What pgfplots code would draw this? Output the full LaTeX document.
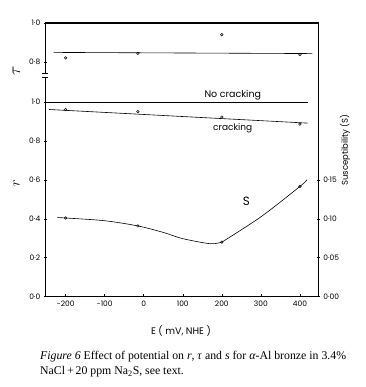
\documentclass[border=0pt]{standalone}
\usepackage{fontspec}
\setmainfont{Liberation Serif}
\newfontfamily\chartfont{Poppins}
\usepackage{pgfplots}
\pgfplotsset{compat=1.18}
\usepackage{pgfplotstable}

\pgfplotstableread{
E tau
-200 0.821
-15 0.844
200 0.940
400 0.838
}\tautable
\pgfplotstableread{
E tau
-231 0.849
432 0.843
}\tauline
\pgfplotstableread{
E r
-200 0.960
-15 0.950
200 0.922
400 0.886
}\rtable
\pgfplotstableread{
E r
-242 0.961
420 0.891
}\rline
\pgfplotstableread{
E r
-252 1.000
420 1.000
}\nocrack
\pgfplotstableread{
E S
-200 0.1010
-15 0.0908
200 0.0700
400 0.1415
}\stable
\pgfplotstableread{
E S
-222 0.1015
-200 0.1010
-100 0.0975
-15 0.0908
50 0.0825
100 0.0745
170 0.0680
200 0.0700
}\scurveA
\pgfplotstableread{
E S
200 0.0700
300 0.1025
400 0.1415
418 0.1500
}\scurveB

\begin{document}
\begin{tikzpicture}
\path[use as bounding box] (0pt,0pt) rectangle (365pt,387pt);
\begin{axis}[
  at={(45.3pt,90.3pt)}, anchor=south west,
  scale only axis, width=273pt, height=273.7pt,
  xmin=-252, xmax=447, ymin=0, ymax=1.405,
  axis line style={line width=1.1pt},
  xtick={-200,-100,0,100,200,300,400},
  xticklabels={−200,−100,0,100,200,300,400},
  ytick={0,0.2,0.4,0.6,0.8,1.0,1.205,1.405},
  yticklabels={0·0,0·2,0·4,0·6,0·8,1·0,0·8,1·0},
  ytick pos=left, xtick pos=bottom,
  xtick align=inside, ytick align=center,
  major tick length=3pt,
  tick style={line width=0.5pt,black},
  tick label style={font=\chartfont\fontsize{7.5}{8}\selectfont},
  xticklabel style={yshift=-1pt},
  clip=false,
]
\addplot[black, line width=0.6pt] table[x=E, y expr=\thisrow{tau}+0.405] {\tauline};
\addplot[only marks, mark=o, mark size=1.3pt, mark options={line width=0.5pt}] table[x=E, y expr=\thisrow{tau}+0.405] {\tautable};
\addplot[black, line width=0.6pt] table[x=E, y=r] {\nocrack};
\addplot[black, line width=0.6pt] table[x=E, y=r] {\rline};
\addplot[only marks, mark=o, mark size=1.3pt, mark options={line width=0.5pt, fill=white}] table[x=E, y=r] {\rtable};
\fill[white] (axis cs:-252,1.128) ++(-1.5pt,0pt) rectangle ++(3pt,4pt);
\draw[line width=0.7pt] (axis cs:-252,1.128) ++(-3pt,0pt) -- ++(6pt,0pt);
\draw[line width=0.7pt] (axis cs:-252,1.149) ++(-3pt,0pt) -- ++(6pt,0pt);
\node[font=\chartfont\fontsize{9.5}{10}\selectfont] at (axis cs:228,1.037) {No cracking};
\node[font=\chartfont\fontsize{9}{10}\selectfont] at (axis cs:228,0.866) {cracking};
\end{axis}
\begin{axis}[
  at={(45.3pt,90.3pt)}, anchor=south west,
  scale only axis, width=273pt, height=273.7pt,
  xmin=-252, xmax=447, ymin=0, ymax=0.35125,
  axis x line=none, axis y line*=right,
  axis line style={line width=1.1pt},
  ytick={0,0.05,0.10,0.15}, yticklabels={0·00,0·05,0·10,0·15},
  ytick align=center, major tick length=3pt,
  tick style={line width=0.5pt,black},
  tick label style={font=\chartfont\fontsize{7.5}{8}\selectfont},
  clip=false,
]
\addplot[black, line width=0.6pt, smooth] table[x=E, y=S] {\scurveA};
\addplot[black, line width=0.6pt, smooth] table[x=E, y=S] {\scurveB};
\addplot[only marks, mark=o, mark size=1.3pt, mark options={line width=0.5pt, fill=white}] table[x=E, y=S] {\stable};
\node[font=\chartfont\fontsize{12}{12}\selectfont] at (axis cs:263,0.122) {S};
\end{axis}
\node[rotate=90, font=\chartfont\fontsize{8.5}{9}\selectfont] at (345pt,237pt) {Susceptibility (S)};
\node[rotate=90, font=\fontsize{16}{16}\selectfont] at (16.5pt,316pt) {$\tau$};
\node[rotate=90, font=\fontsize{14}{14}\selectfont] at (16.5pt,204pt) {$r$};
\node[font=\chartfont\fontsize{9.5}{10}\selectfont] at (181pt,56pt) {E ( mV, NHE )};
\node[anchor=base west, inner sep=0pt, font=\fontsize{11.8}{13}\selectfont] at (40pt,27pt) {\textit{Figure 6} Effect of potential on \textit{r}, \textit{τ} and \textit{s} for \textit{α}-Al bronze in 3.4\%};
\node[anchor=base west, inner sep=0pt, font=\fontsize{11.8}{13}\selectfont] at (40pt,12.5pt) {NaCl\,+\,20 ppm Na\textsubscript{2}S, see text.};
\end{tikzpicture}
\end{document}
